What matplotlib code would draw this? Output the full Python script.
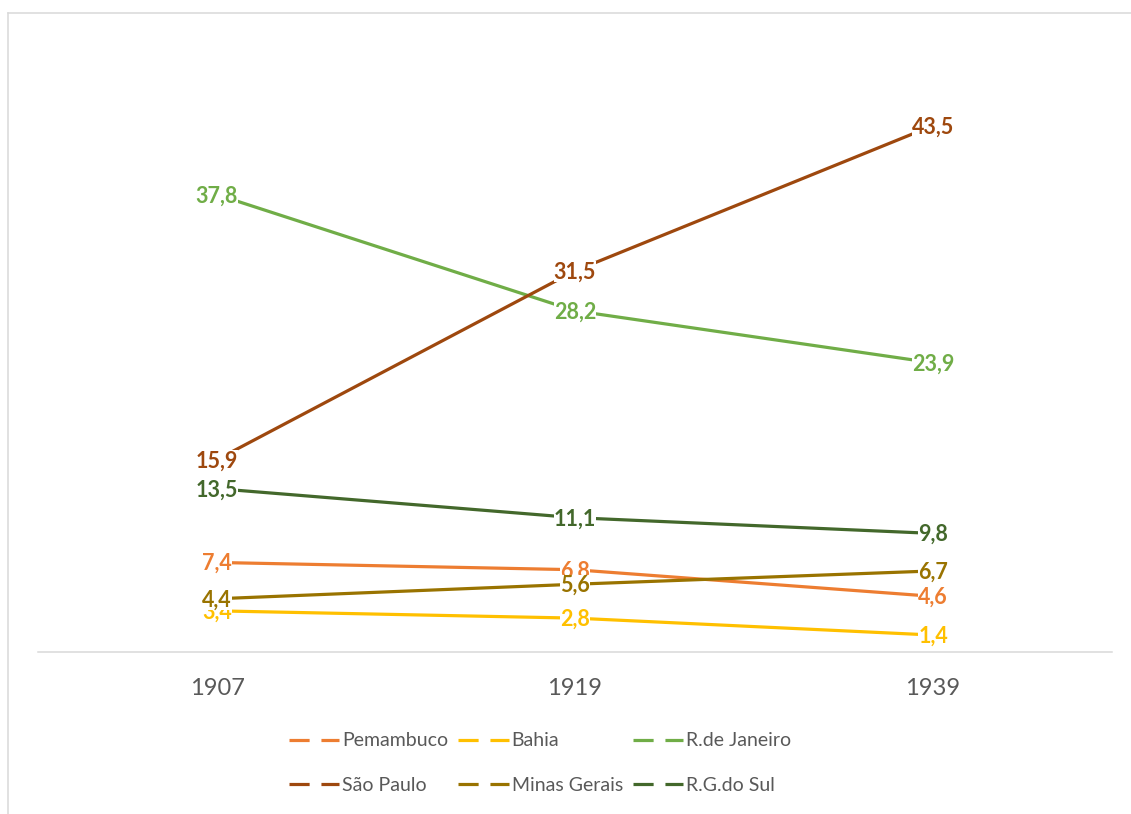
import matplotlib.pyplot as plt
import matplotlib.transforms as mtransforms
from matplotlib.lines import Line2D

years = ['1907', '1919', '1939']
series = ['Pemambuco', 'Bahia', 'R.de Janeiro', 'São Paulo', 'Minas Gerais', 'R.G.do Sul']
pemambuco = [7.4, 6.8, 4.6]
bahia = [3.4, 2.8, 1.4]
rio = [37.8, 28.2, 23.9]
sao_paulo = [15.9, 31.5, 43.5]
minas = [4.4, 5.6, 6.7]
rgs = [13.5, 11.1, 9.8]
colors = ['#ED7D31', '#FFC000', '#70AD47', '#9E480E', '#997300', '#43682B']

values = [pemambuco, bahia, rio, sao_paulo, minas, rgs]

plt.rcParams['font.family'] = ['Lato', 'DejaVu Sans']

fig = plt.figure(figsize=(11.31, 8.14), dpi=100)
ax = fig.add_axes([38 / 1131, 1 - 652 / 814, (1112 - 38) / 1131, (652 - 47) / 814])

# labels sit on the points; shift baseline down so digits are centred
label_tr = ax.transData + mtransforms.ScaledTranslation(0, -5.5 / 72, fig.dpi_scale_trans)

x = range(len(years))
handles = []
for i, (name, vals, c) in enumerate(zip(series, values, colors)):
    ax.plot(x, vals, color=c, lw=2.3, solid_capstyle='butt', zorder=2 + i * 0.01)
    handles.append(Line2D([], [], color=c, lw=2.3, linestyle=(0, (6.3, 3.7))))
    for xi, v in zip(x, vals):
        ax.text(xi, v, f'{v:.1f}'.replace('.', ','), ha='center', va='baseline',
                color=c, fontsize=15.5, fontweight='bold', zorder=10 + i,
                transform=label_tr,
                bbox=dict(boxstyle='square,pad=0.0', fc='white', ec='none'))

ax.set_xlim(-0.5, 2.5)
ax.set_ylim(0, 50)
ax.set_xticks(list(x))
ax.set_xticklabels(years, color='#595959', fontsize=17)
ax.tick_params(axis='x', length=0, pad=19)
ax.set_yticks([])
for s in ['top', 'right', 'left']:
    ax.spines[s].set_visible(False)
ax.spines['bottom'].set_color('#D9D9D9')
ax.spines['bottom'].set_linewidth(1.1)

# legend fills row by row in the reference; matplotlib fills by column
order = [0, 3, 1, 4, 2, 5]
leg = fig.legend([handles[k] for k in order], [series[k] for k in order],
                 loc='center', bbox_to_anchor=(540 / 1131, 1 - 763 / 814),
                 ncol=3, frameon=False, fontsize=14, handlelength=2.6, handletextpad=0.15,
                 columnspacing=0.5, labelspacing=1.4, labelcolor='#595959')

# chart border (only top/left visible in the crop)
fig.add_artist(Line2D([7.5 / 1131, 1], [1 - 12.5 / 814] * 2, color='#D9D9D9', lw=1.1))
fig.add_artist(Line2D([7.5 / 1131] * 2, [0, 1 - 12.5 / 814], color='#D9D9D9', lw=1.1))

fig.savefig('out.png', dpi=100)
